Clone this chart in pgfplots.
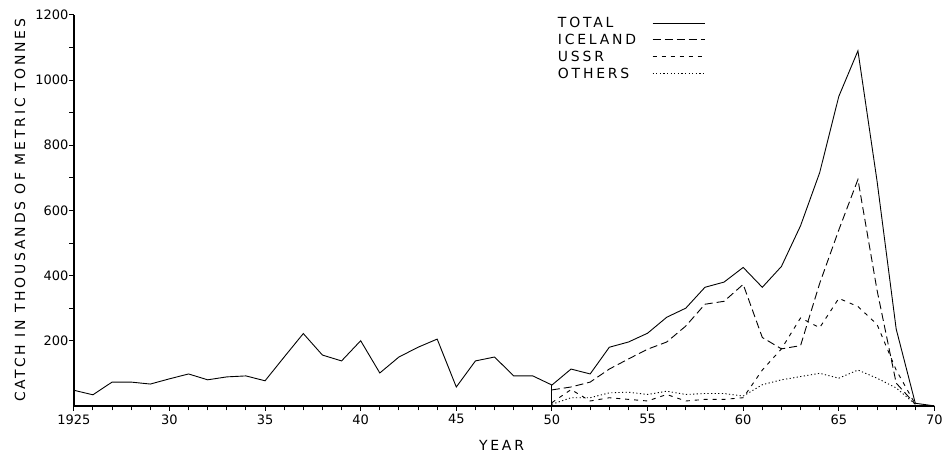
\documentclass[border=0pt]{standalone}
\usepackage{fontspec}
\setmainfont{DejaVu Sans}
\newfontfamily\lbl[LetterSpace=20]{DejaVu Sans}
\usepackage{pgfplots}
\pgfplotsset{compat=1.18}
\begin{document}
\begin{tikzpicture}
\begin{axis}[
  scale only axis, width=863pt, height=392pt,
  xmin=1925, xmax=1970, ymin=0, ymax=1200,
  clip=false,
  axis lines=left,
  x axis line style={-, black, line width=1.5pt},
  y axis line style={-, black, line width=1.5pt},
  tick align=outside,
  major tick length=5pt, minor tick length=4.5pt,
  xtick={1925,1930,1935,1940,1945,1950,1955,1960,1965,1970},
  xticklabels={1925,30,35,40,45,50,55,60,65,70},
  minor x tick num=4,
  ytick={200,400,600,800,1000,1200},
  yticklabels={200,400,600,800,1000,1200},
  minor y tick num=1,
  major tick style={black, line width=1pt},
  minor tick style={black, line width=0.9pt},
  tick label style={font=\fontsize{13}{15}\selectfont},
  yticklabel style={xshift=3pt},
  xlabel={\lbl YEAR},
  xlabel style={font=\fontsize{14}{16}\selectfont, at={(axis description cs:0.497,0)}, anchor=north, yshift=-31pt},
  ylabel={\lbl CATCH IN THOUSANDS OF METRIC TONNES},
  ylabel style={font=\fontsize{14}{16}\selectfont, at={(axis description cs:0,0.5)}, anchor=center, yshift=54pt},
  legend style={at={(axis description cs:0.56,1.0)}, anchor=north west, draw=none, fill=none,
    font=\fontsize{14}{15}\selectfont\lbl, row sep=1pt, column sep=14pt, inner sep=0pt},
  legend cell align=left, legend plot pos=right,
  legend image code/.code={\draw[#1] (0pt,0pt) -- (53pt,0pt);},
]
\draw[black, line width=1.5pt] (rel axis cs:0,0) -- (rel axis cs:0,1);
\draw[black, line width=1.5pt] (rel axis cs:0,0) -- (rel axis cs:1,0);
\addplot[black, line width=0.9pt, solid] coordinates {
(1925,48) (1926,34) (1927,73) (1928,73) (1929,67) (1930,83) (1931,98) (1932,80)
(1933,89) (1934,92) (1935,77) (1936,150) (1937,222) (1938,156) (1939,138) (1940,200)
(1941,101) (1942,150) (1943,180) (1944,205) (1945,58) (1946,138) (1947,150) (1948,92)
(1949,92) (1950,64) (1951,113) (1952,98) (1953,180) (1954,196) (1955,223) (1956,272)
(1957,300) (1958,364) (1959,380) (1960,425) (1961,364) (1962,428) (1963,553) (1964,716)
(1965,950) (1966,1090) (1967,690) (1968,236) (1969,8) (1970,0)
};
\addlegendentry{TOTAL}
\addplot[black, line width=0.9pt, dash pattern=on 8pt off 4pt] coordinates {
(1950,49) (1951,58) (1952,73) (1953,113) (1954,144) (1955,174) (1956,196) (1957,245)
(1958,312) (1959,321) (1960,373) (1961,210) (1962,175) (1963,185) (1964,376) (1965,540)
(1966,695) (1967,355) (1968,70) (1969,5)
};
\addlegendentry{ICELAND}
\addplot[black, line width=0.9pt, dash pattern=on 4pt off 5pt] coordinates {
(1950,10) (1951,50) (1952,15) (1953,25) (1954,20) (1955,15) (1956,35) (1957,15)
(1958,20) (1959,20) (1960,25) (1961,110) (1962,175) (1963,270) (1964,240) (1965,330)
(1966,305) (1967,250) (1968,110) (1969,5)
};
\addlegendentry{USSR}
\addplot[black, line width=0.9pt, dash pattern=on 1.2pt off 2.4pt] coordinates {
(1950,5) (1951,25) (1952,25) (1953,40) (1954,42) (1955,35) (1956,45) (1957,35)
(1958,38) (1959,38) (1960,30) (1961,65) (1962,80) (1963,90) (1964,100) (1965,85)
(1966,110) (1967,85) (1968,55) (1969,5)
};
\addlegendentry{OTHERS}
\addplot[black, line width=0.9pt, solid, forget plot] coordinates {(1950,0) (1950,64)};
\end{axis}
\path (-74pt,-47pt) rectangle (872pt,407pt);
\end{tikzpicture}
\end{document}
